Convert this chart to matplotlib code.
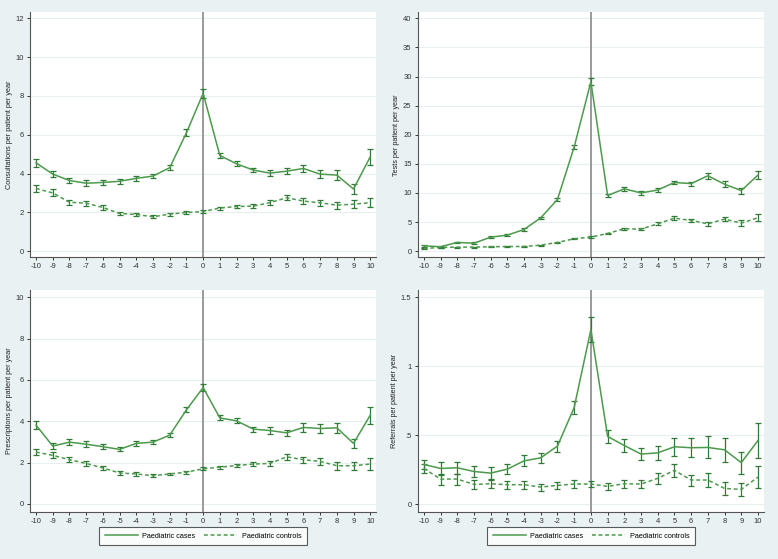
import numpy as np
import matplotlib
matplotlib.use('Agg')
import matplotlib.pyplot as plt

plt.rcParams['font.family'] = ['Liberation Sans', 'DejaVu Sans']

years = list(range(-10, 11))

# Consultations
cons_cases = [4.55, 3.97, 3.64, 3.5, 3.54, 3.6, 3.75, 3.87, 4.3, 6.1, 8.13,
              4.93, 4.5, 4.18, 4.02, 4.12, 4.26, 3.97, 3.92, 3.2, 4.86]
cons_cases_err = [0.2, 0.17, 0.15, 0.15, 0.15, 0.13, 0.12, 0.1, 0.12, 0.17, 0.25,
                  0.12, 0.12, 0.12, 0.15, 0.17, 0.18, 0.2, 0.25, 0.25, 0.4]
cons_ctrl = [3.23, 3.0, 2.52, 2.47, 2.25, 1.94, 1.89, 1.77, 1.91, 1.99, 2.04,
             2.22, 2.3, 2.32, 2.5, 2.75, 2.58, 2.49, 2.37, 2.42, 2.5]
cons_ctrl_err = [0.18, 0.18, 0.13, 0.12, 0.12, 0.1, 0.08, 0.07, 0.08, 0.07, 0.07,
                 0.08, 0.1, 0.1, 0.12, 0.12, 0.15, 0.15, 0.18, 0.2, 0.25]

# Tests
test_cases = [0.92, 0.75, 1.5, 1.37, 2.4, 2.75, 3.72, 5.73, 8.88, 17.9, 29.1,
              9.57, 10.7, 10.0, 10.5, 11.8, 11.6, 12.95, 11.5, 10.4, 13.07]
test_cases_err = [0.2, 0.15, 0.15, 0.15, 0.15, 0.15, 0.2, 0.2, 0.3, 0.4, 0.6,
                  0.3, 0.3, 0.3, 0.3, 0.3, 0.35, 0.5, 0.5, 0.5, 0.7]
test_ctrl = [0.46, 0.63, 0.69, 0.69, 0.75, 0.8, 0.8, 1.03, 1.5, 2.12, 2.4,
             3.04, 3.84, 3.78, 4.7, 5.67, 5.27, 4.7, 5.5, 4.81, 5.73]
test_ctrl_err = [0.1, 0.1, 0.1, 0.1, 0.1, 0.1, 0.1, 0.1, 0.1, 0.1, 0.15,
                 0.15, 0.2, 0.2, 0.25, 0.3, 0.3, 0.3, 0.4, 0.5, 0.6]

# Prescriptions
presc_cases = [3.81, 2.8, 2.99, 2.89, 2.77, 2.64, 2.93, 2.99, 3.33, 4.55, 5.63,
               4.16, 4.02, 3.62, 3.55, 3.44, 3.7, 3.65, 3.68, 2.93, 4.29]
presc_cases_err = [0.2, 0.15, 0.15, 0.15, 0.12, 0.1, 0.12, 0.1, 0.1, 0.12, 0.18,
                   0.12, 0.12, 0.12, 0.15, 0.15, 0.2, 0.22, 0.25, 0.2, 0.4]
presc_ctrl = [2.51, 2.35, 2.14, 1.96, 1.74, 1.5, 1.45, 1.37, 1.45, 1.54, 1.7,
              1.78, 1.86, 1.93, 1.96, 2.28, 2.14, 2.06, 1.85, 1.85, 1.93]
presc_ctrl_err = [0.15, 0.15, 0.12, 0.1, 0.1, 0.08, 0.08, 0.07, 0.07, 0.07, 0.07,
                  0.07, 0.08, 0.1, 0.12, 0.13, 0.15, 0.17, 0.2, 0.2, 0.28]

# Referrals
ref_cases = [0.287, 0.258, 0.263, 0.236, 0.224, 0.253, 0.313, 0.335, 0.42, 0.7, 1.264,
             0.49, 0.424, 0.362, 0.371, 0.415, 0.408, 0.41, 0.393, 0.3, 0.46]
ref_cases_err = [0.035, 0.045, 0.045, 0.04, 0.045, 0.035, 0.04, 0.035, 0.04, 0.05, 0.09,
                 0.045, 0.045, 0.045, 0.05, 0.065, 0.07, 0.08, 0.085, 0.08, 0.13]
ref_ctrl = [0.258, 0.181, 0.181, 0.142, 0.147, 0.14, 0.14, 0.123, 0.135, 0.145, 0.145,
            0.128, 0.147, 0.145, 0.186, 0.244, 0.174, 0.174, 0.113, 0.106, 0.195]
ref_ctrl_err = [0.035, 0.04, 0.04, 0.03, 0.03, 0.03, 0.03, 0.025, 0.025, 0.03, 0.025,
                0.025, 0.03, 0.03, 0.04, 0.045, 0.04, 0.05, 0.045, 0.05, 0.08]

green = '#4c9a4c'
cap_green = '#2f7a36'
bg = '#e9f1f2'

fig = plt.figure(figsize=(7.78, 5.59), dpi=100, facecolor=bg)

panels = [
    # rect, cases, err, ctrl, err, ylabel, ylim, yticks, yticklabels
    ([0.0386, 0.540, 0.445, 0.438], cons_cases, cons_cases_err, cons_ctrl, cons_ctrl_err,
     'Consultations per patient per year', (-0.31, 12.31), [0, 2, 4, 6, 8, 10, 12],
     ['0', '2', '4', '6', '8', '10', '12']),
    ([0.537, 0.540, 0.445, 0.438], test_cases, test_cases_err, test_ctrl, test_ctrl_err,
     'Tests per patient per year', (-1.03, 41.03), [0, 5, 10, 15, 20, 25, 30, 35, 40],
     ['0', '5', '10', '15', '20', '25', '30', '35', '40']),
    ([0.0386, 0.084, 0.445, 0.397], presc_cases, presc_cases_err, presc_ctrl, presc_ctrl_err,
     'Prescriptions per patient per year', (-0.39, 10.34), [0, 2, 4, 6, 8, 10],
     ['0', '2', '4', '6', '8', '10']),
    ([0.537, 0.084, 0.445, 0.397], ref_cases, ref_cases_err, ref_ctrl, ref_ctrl_err,
     'Referrals per patient per year', (-0.058, 1.55), [0, 0.5, 1, 1.5],
     ['0', '.5', '1', '1.5']),
]

for i, (rect, c, ce, k, ke, ylab, ylim, yt, ytl) in enumerate(panels):
    ax = fig.add_axes(rect)
    ax.set_facecolor('white')
    ax.axvline(0, color='#9a9a9a', lw=1.4, zorder=1)
    for y in yt:
        ax.axhline(y, color='#e8eff0', lw=0.8, zorder=0)
    ax.errorbar(years, c, yerr=ce, color=green, lw=1.1, ls='-',
                ecolor=cap_green, elinewidth=0.9, capsize=2.2, capthick=0.9, zorder=3,
                label='Paediatric cases')
    ax.errorbar(years, k, yerr=ke, color=green, lw=1.1, ls=(0, (2.5, 1.8)),
                ecolor=cap_green, elinewidth=0.9, capsize=2.2, capthick=0.9, zorder=3,
                label='Paediatric controls')
    ax.set_xlim(-10.36, 10.36)
    ax.set_ylim(*ylim)
    ax.set_xticks(years)
    ax.set_xticklabels([str(x) for x in years])
    ax.set_yticks(yt)
    ax.set_yticklabels(ytl)
    ax.tick_params(labelsize=5.5, length=2.5, width=0.7, colors='#333333', pad=2)
    ax.set_ylabel(ylab, fontsize=5.2, color='#222222', labelpad=2)
    for s in ['top', 'right']:
        ax.spines[s].set_visible(False)
    for s in ['left', 'bottom']:
        ax.spines[s].set_color('#555555')
        ax.spines[s].set_linewidth(0.8)
    if i >= 2:
        h, l = ax.get_legend_handles_labels()
        h = [hh[0] for hh in h]
        leg = ax.legend(h, l, loc='upper center', bbox_to_anchor=(0.5, -0.058), ncol=2,
                        fontsize=5.2, frameon=True, fancybox=False, edgecolor='#333333',
                        handlelength=4.6, handletextpad=0.6, columnspacing=1.2,
                        borderpad=0.75, borderaxespad=0.3)
        leg.get_frame().set_linewidth(0.8)

fig.savefig('out.png', dpi=100, facecolor=bg)
